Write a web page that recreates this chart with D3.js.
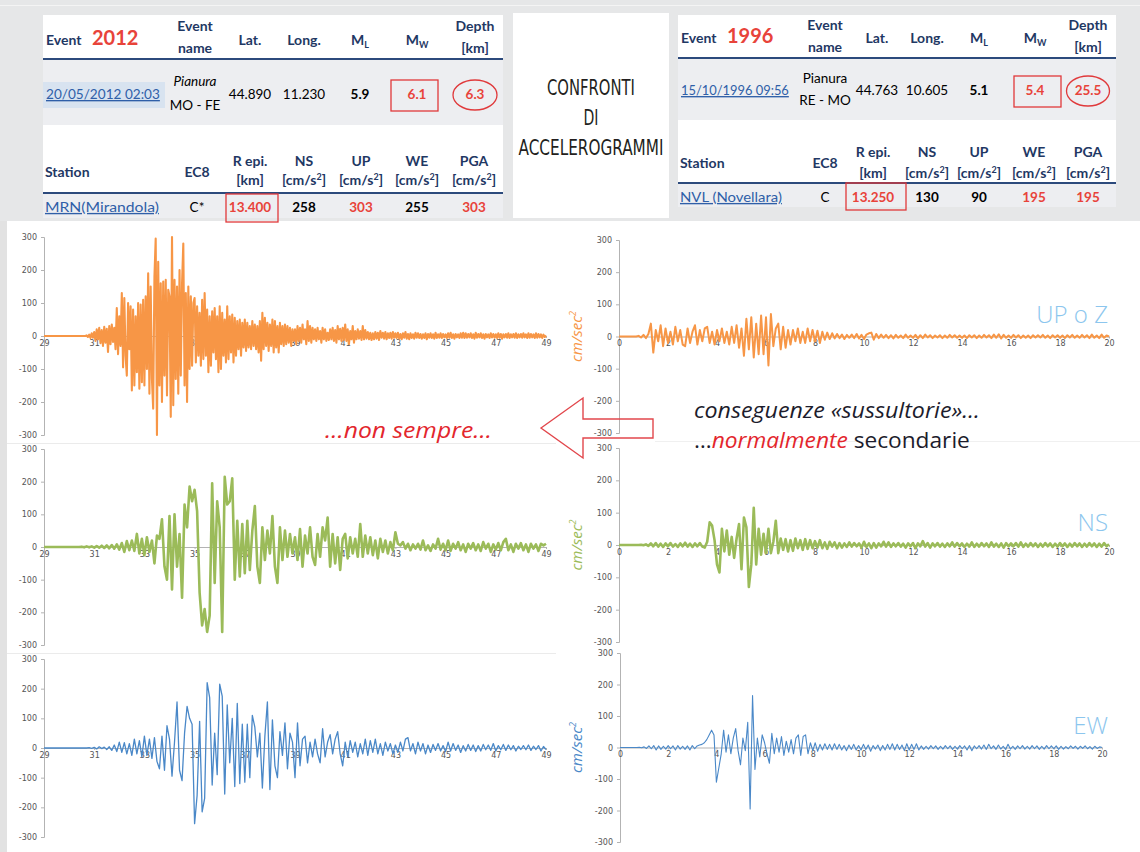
<!DOCTYPE html>
<html><head><meta charset="utf-8">
<script src="https://cdn.jsdelivr.net/npm/d3@7"></script>
<style>body{margin:0;background:#fff}svg{display:block}</style>
</head><body>
<svg id="c" width="1140" height="852"></svg>
<script>
// ---------- DATA ----------
const ticksXLeft = [29,31,33,35,37,39,41,43,45,47,49];
const ticksXRight = [0,2,4,6,8,10,12,14,16,18,20];
const ticksY = [300,200,100,0,-100,-200,-300];
const domainLeft = [29,49];
const domainRight = [0,20];
const stepUpMRN = 0.05, stepMRN = 0.1, stepNVL = 0.1;

// MRN (Mirandola) 2012 – UP, samples every 0.05 s from 29 s
const upMRN = [0,0,0,0,0,0,0,0,0,0,0,0,0,0,0,0,0,0,0,0,0,0,0,0,0,0,0,0,0,0,0,0,0,0,
2,-3,4,-6,8,-5,
12,-15,20,-10,25,-22,18,-30,28,-20,22,-48,30,-25,35,-18,25,-40,85,-55,
60,-30,130,-95,115,-60,-120,100,-40,90,-165,80,-150,60,-110,100,-160,95,-140,110,
-150,120,-100,190,-175,150,-130,-220,180,295,-300,225,-150,160,-200,165,-120,170,-180,140,
120,-245,300,-210,170,-130,150,-175,200,-120,160,280,-150,130,-200,150,-100,120,-90,100,
115,-80,90,-60,70,-90,110,-70,130,-60,80,-110,60,-90,75,-50,85,-70,60,-110,
90,-100,70,-60,50,-80,90,-70,60,-50,65,-80,55,-60,45,-40,50,-60,40,-35,
50,-45,40,-35,30,-40,45,-30,35,-40,30,-50,45,-75,70,-40,55,-30,40,-45,
35,-30,50,-50,45,-35,30,-50,40,-25,30,-30,35,-25,30,-20,25,-30,20,-15,
20,-25,30,-15,25,-20,35,-10,20,-25,45,-15,30,-20,25,-10,20,-15,25,-10,
15,-20,25,-10,20,-15,10,-12,20,-10,25,-15,18,-20,30,-10,22,-15,25,-12,
35,-15,20,-25,15,-10,30,-20,15,-10,20,-8,15,-12,30,-10,18,-8,12,-10,
10,-12,8,-10,12,-8,10,-12,15,-5,10,-8,12,-10,8,-6,10,-8,12,-5,
8,-6,10,-8,6,-10,8,-5,12,-8,6,-10,8,-6,5,-8,10,-5,8,-6,
6,-8,5,-6,8,-10,6,-5,8,-6,5,-8,10,-6,5,-5,8,-6,6,-4,
5,-6,8,-5,10,-6,5,-8,6,-4,5,-6,8,-5,10,-6,8,-5,6,-4,
8,-6,5,-8,10,-5,6,-4,8,-6,5,-8,6,-4,5,-6,8,-4,6,-5,
5,-6,8,-5,6,-8,5,-4,6,-5,8,-6,5,-4,6,-5,8,-6,5,-4,
6,-5,8,-4,5,-6,8,-5,6,-4,5,-6,8,-5,6,-4,5,-6,4,-3,2];

// MRN 2012 – NS, every 0.1 s from 29 s
const nsMRN = [0,0,0,0,0,0,0,0,0,0,0,0,0,0,0,
1,-1,2,-1,2,
-2,3,-2,4,-3,5,-4,6,-5,8,
-8,12,-15,18,-10,20,-12,40,-20,25,
-25,30,-15,20,-50,35,25,85,-60,-100,
95,-130,100,-60,40,-155,130,60,185,140,
175,110,-140,-240,-190,-260,-210,195,-110,140,
60,-260,215,130,140,210,-100,80,-90,70,
-80,80,-70,50,125,-60,-110,60,-40,50,
-20,95,-60,-110,60,-40,50,-30,40,-20,
30,-40,55,-60,35,-20,60,-30,-55,40,
-30,60,20,90,-60,40,-50,30,-70,25,
40,-35,30,-20,25,-30,70,-30,35,-20,
30,-25,20,-35,25,-15,20,-20,15,-10,
45,10,5,15,-5,10,-10,8,-5,10,
-8,20,-10,5,-12,8,-5,25,-8,10,
-10,20,-12,10,-5,15,-10,8,-15,10,
-5,12,-10,8,-12,15,-5,10,-15,8,
-8,12,-10,15,25,-10,8,-15,10,-5,
12,-10,8,-15,10,-5,8,-12,10,5,10];

// MRN 2012 – EW, every 0.1 s from 29 s
const ewMRN = [0,0,0,0,0,0,0,0,0,0,0,0,0,0,0,0,0,0,
1,-1,
2,-3,4,-2,3,-5,4,-8,10,-12,
20,-15,18,-20,15,-25,30,-20,25,-30,
40,-25,30,-35,35,-45,-70,40,-75,75,
30,-95,20,155,-75,-110,50,140,100,80,
-255,-160,90,-215,-170,220,170,-125,50,-90,
215,175,-155,145,-50,100,-130,150,-120,80,
-115,80,-100,110,70,-30,50,-135,40,155,
-140,95,-60,-100,55,-25,85,-70,50,20,
-100,85,-60,30,40,-50,20,-30,30,-20,
-50,65,-30,20,45,-20,30,55,-20,-60,
20,-30,25,-15,20,-30,15,-20,30,-25,
25,-15,30,-20,15,-25,20,-10,15,-20,
10,-15,20,-10,30,35,-10,15,-20,20,
-10,15,-20,10,-15,12,-8,15,-10,8,
-12,20,-10,15,-8,10,-15,8,-10,12,
-8,10,-12,8,-10,12,-6,10,-8,15,
-10,8,-6,12,-8,10,-6,8,-10,6,
-5,8,-6,10,-8,6,-5,8,-10,5,-5];

// NVL (Novellara) 1996 – UP, every 0.1 s from 0 s
const upNVL = [0,0,0,0,0,0,0,0,
2,-3,
5,-5,8,40,-50,20,-15,35,-30,25,
-20,15,-25,30,-15,20,-25,-30,25,-20,
15,35,-25,20,-15,25,30,-20,15,-25,
20,-15,25,-20,15,-25,30,-20,35,-35,
25,-60,55,-40,60,-65,40,-55,65,-55,
60,-90,70,-30,25,40,-40,30,-35,20,
-25,20,-15,25,-20,15,-20,25,-15,20,
-15,18,-20,15,-10,12,-8,10,-6,8,
-5,6,-8,5,-4,6,-5,8,-6,5,
-8,6,10,12,-10,8,-5,6,-4,5,
-5,4,-6,5,-4,3,-5,6,-4,3,
-4,5,-6,4,-5,6,-3,4,-5,3,
-3,4,-5,3,-4,5,-3,4,-4,3,
-4,3,-5,4,-3,4,-5,3,-4,5,
-3,4,-5,6,-4,7,-6,5,-4,3,
-4,5,-3,4,-5,3,-4,3,-5,4,
-3,4,-3,5,-4,3,-5,4,-3,4,
-4,3,-5,4,-3,5,-4,3,-4,5,
-3,4,-5,6,-4,3,-5,6,-4,3,0];

// NVL 1996 – NS, every 0.1 s from 0 s
const nsNVL = [0,0,0,0,0,0,0,0,0,1,
-1,2,-3,5,-4,6,-5,4,-6,5,
-4,6,-5,3,-6,5,-4,7,-5,4,
-6,5,-4,6,-5,-8,10,70,60,15,
-60,-85,50,-20,45,-30,25,-40,20,65,
-75,85,55,-130,-60,115,-60,50,-30,35,
-25,50,-25,10,75,-25,20,-15,18,-20,
15,-18,20,-10,15,-15,18,-12,15,-10,
12,-8,15,-10,8,-12,10,-5,8,-10,
6,-8,5,-6,8,-5,6,-4,5,-8,
10,-6,5,-10,6,-8,5,-4,10,-5,
8,-6,5,-4,6,-5,4,-8,5,-4,
6,-10,5,-4,12,-5,6,-8,5,-4,
6,-5,4,-6,5,-4,8,-5,6,-4,
5,-6,4,-5,8,-6,4,-5,6,-4,
5,-6,8,-5,4,-6,5,-8,6,-4,
5,-4,6,-5,8,-6,4,-5,6,-4,
5,-6,4,-5,6,-4,5,-6,4,-5,
6,-4,5,-6,4,-5,6,-4,5,-6,
4,-5,6,-4,5,-6,4,-5,6,-4,2];

// NVL 1996 – EW, every 0.1 s from 0 s
const ewNVL = [0,0,0,0,0,0,0,0,1,-1,
2,-3,5,-4,6,-8,5,-6,4,-5,
6,-4,5,-8,6,-5,4,-6,5,-8,
6,-4,5,8,10,15,25,40,55,40,
-110,-65,-20,55,-15,40,-20,30,60,-10,
-55,30,-10,80,-195,165,-70,30,-30,40,
15,-20,-50,45,-20,30,-15,35,-25,20,
-15,25,-20,30,40,-25,35,40,-20,15,
-10,15,-12,10,-8,12,-6,10,-8,12,
-6,10,-8,6,-10,8,-6,10,-8,6,
-8,10,-6,8,-12,6,-5,8,-10,6,
-8,10,-6,12,-8,10,-6,8,-10,12,
-8,10,-6,12,-8,5,-6,4,-5,6,
-4,5,-6,4,-5,6,-4,5,-6,4,
-5,6,-4,5,-8,6,-10,5,-4,6,
-5,8,-6,10,-4,5,-6,8,-5,4,
-6,10,-5,4,-6,5,-4,6,-5,4,
-5,6,-4,5,-6,4,-5,6,-4,5,
-4,5,-6,4,-5,3,-4,5,-3,4,
-5,4,-3,5,-4,3,-5,4,-3,2,0];

// table texts
const headerCols = ["Lat.","Long."];
const event2012 = {date:"20/05/2012 02:03", name1:"Pianura", name2:"MO - FE", lat:"44.890", lon:"11.230", ml:"5.9", mw:"6.1", depth:"6.3"};
const station2012 = {name:"MRN(Mirandola)", ec8:"C*", repi:"13.400", ns:"258", up:"303", we:"255", pga:"303"};
const event1996 = {date:"15/10/1996 09:56", name1:"Pianura", name2:"RE - MO", lat:"44.763", lon:"10.605", ml:"5.1", mw:"5.4", depth:"25.5"};
const station1996 = {name:"NVL (Novellara)", ec8:"C", repi:"13.250", ns:"130", up:"90", we:"195", pga:"195"};
const componentLabels = ["UP o Z","NS","EW"];
const titleLines = ["CONFRONTI","DI","ACCELEROGRAMMI"];

// ---------- DRAW ----------
const svg = d3.select('#c');
const FONT = 'Lato, "Open Sans", sans-serif';
const NAVY = '#1f3864', RED = '#e8433a', LINK = '#2f5fa8', LINE = '#2c4a7c';
const ORANGE = '#f79646', GREEN = '#9bbb59', BLUE = '#4a88c8';

function T(g, x, y, s, o = {}) {
  const t = g.append('text').attr('x', x).attr('y', y)
    .attr('font-family', o.ff || FONT).attr('font-size', o.fs || 14)
    .attr('font-weight', o.fw || 'normal').attr('font-style', o.it ? 'italic' : 'normal')
    .attr('fill', o.c || '#000').attr('text-anchor', o.a || 'start');
  if (o.u) t.attr('text-decoration', 'underline');
  if (s !== null) t.text(s);
  if (o.tl) fitW(t, o.tl, x, y);
  return t;
}
// horizontally scale a text so that it spans the given width (anchored at x)
function fitW(t, w, x, y) {
  const n = t.node().getComputedTextLength();
  if (!n) return;
  const k = w / n;
  t.attr('transform', `translate(${x},${y}) scale(${k},1) translate(${-x},${-y})`);
}
function sub(g, x, y, main, s, o) {
  const t = T(g, x, y, null, o);
  t.append('tspan').text(main);
  t.append('tspan').attr('dy', 3).attr('font-size', 9).text(s);
  return t;
}
function unit(g, x, y) {
  const t = T(g, x, y, null, {a:'middle', fw:'bold', c:NAVY, fs:14});
  t.append('tspan').text('[cm/s');
  t.append('tspan').attr('dy', -5).attr('font-size', 9).text('2');
  t.append('tspan').attr('dy', 5).text(']');
}

// backgrounds
svg.append('rect').attr('x',0).attr('y',0).attr('width',1140).attr('height',852).attr('fill','#fff');
svg.append('rect').attr('x',0).attr('y',0).attr('width',1140).attr('height',221).attr('fill','#e6e7e8');
svg.append('line').attr('x1',0).attr('x2',1140).attr('y1',5.5).attr('y2',5.5).attr('stroke','#f4f4f4');
svg.append('rect').attr('x',0).attr('y',221).attr('width',7).attr('height',631).attr('fill','#e2e2e2');

function table(x0, x1, rows, ev, st, yr, cols, year, highlight, italicName) {
  const g = svg.append('g');
  const w = x1 - x0;
  g.append('rect').attr('x',x0).attr('y',rows[0]).attr('width',w).attr('height',rows[1]-rows[0]).attr('fill','#fff');
  g.append('rect').attr('x',x0).attr('y',rows[1]).attr('width',w).attr('height',rows[2]-rows[1]).attr('fill','#edeef1');
  g.append('rect').attr('x',x0).attr('y',rows[2]).attr('width',w).attr('height',rows[3]-rows[2]).attr('fill','#fff');
  g.append('rect').attr('x',x0).attr('y',rows[3]).attr('width',w).attr('height',rows[4]-rows[3]).attr('fill','#edeef1');
  [rows[1], rows[3]].forEach(y => g.append('line').attr('x1',x0).attr('x2',x1).attr('y1',y).attr('y2',y).attr('stroke',LINE).attr('stroke-width',2));
  const [cName, cLat, cLon, cMl, cMw, cDep] = cols;
  const H = {a:'middle', fw:'bold', c:NAVY, fs:14};
  // header
  T(g, x0+3, yr.h, 'Event', {fw:'bold', c:NAVY, fs:14});
  T(g, x0+49, yr.h, year, {fw:'bold', c:RED, fs:20});
  T(g, cName, yr.h1, 'Event', H); T(g, cName, yr.h2, 'name', H);
  T(g, cLat, yr.h, headerCols[0], H); T(g, cLon, yr.h, headerCols[1], H);
  sub(g, cMl, yr.h, 'M', 'L', H); sub(g, cMw, yr.h, 'M', 'W', H);
  T(g, cDep, yr.h1, 'Depth', H); T(g, cDep, yr.h2, '[km]', H);
  // data row
  if (highlight) g.append('rect').attr('x',x0).attr('y',yr.d-17).attr('width',122).attr('height',26).attr('fill','#d8e3f0');
  T(g, x0+3, yr.d, ev.date, {c:LINK, u:true, fs:13.5, tl: yr.dateLen});
  T(g, cName, yr.n1, ev.name1, {a:'middle', it:italicName, fs:13.5});
  T(g, cName, yr.n2, ev.name2, {a:'middle', fs:13.5});
  T(g, cLat, yr.d, ev.lat, {a:'middle', fs:13.5});
  T(g, cLon, yr.d, ev.lon, {a:'middle', fs:13.5});
  T(g, cMl, yr.d, ev.ml, {a:'middle', fw:'bold', fs:13.5});
  T(g, cMw, yr.d, ev.mw, {a:'middle', fw:'bold', c:RED, fs:13.5});
  T(g, cDep, yr.d, ev.depth, {a:'middle', fw:'bold', c:RED, fs:13.5});
  g.append('rect').attr('x',yr.mwBox[0]).attr('y',yr.mwBox[1]).attr('width',yr.mwBox[2]).attr('height',yr.mwBox[3]).attr('fill','none').attr('stroke','#e0393b').attr('stroke-width',1.3);
  g.append('ellipse').attr('cx',cDep).attr('cy',yr.d-4).attr('rx',yr.erx).attr('ry',15).attr('fill','none').attr('stroke','#e0393b').attr('stroke-width',1.3);
  // station header
  const [cEc8, cRe, cNs, cUp, cWe, cPga] = yr.scols;
  T(g, x0+2, yr.s, 'Station', {fw:'bold', c:NAVY, fs:14});
  T(g, cEc8, yr.s, 'EC8', H);
  T(g, cRe, yr.s1, 'R epi.', H); T(g, cRe, yr.s2, '[km]', H);
  [['NS',cNs],['UP',cUp],['WE',cWe],['PGA',cPga]].forEach(([l,c]) => { T(g, c, yr.s1, l, H); unit(g, c, yr.s2); });
  // last row
  T(g, x0+2, yr.l, st.name, {c:LINK, u:true, fs:13.5, tl: yr.stLen});
  T(g, cEc8, yr.l, st.ec8, {a:'middle', fs:13.5});
  T(g, cRe, yr.l, st.repi, {a:'middle', fw:'bold', c:RED, fs:13.5});
  g.append('rect').attr('x',yr.reBox[0]).attr('y',yr.reBox[1]).attr('width',yr.reBox[2]).attr('height',yr.reBox[3]).attr('fill','none').attr('stroke','#e0393b').attr('stroke-width',1.3);
  T(g, cNs, yr.l, st.ns, {a:'middle', fw:'bold', c: yr.red.ns ? RED : '#000', fs:13.5});
  T(g, cUp, yr.l, st.up, {a:'middle', fw:'bold', c: yr.red.up ? RED : '#000', fs:13.5});
  T(g, cWe, yr.l, st.we, {a:'middle', fw:'bold', c: yr.red.we ? RED : '#000', fs:13.5});
  T(g, cPga, yr.l, st.pga, {a:'middle', fw:'bold', c:RED, fs:13.5});
}

table(43, 503, [15,59,125,193,218], event2012, station2012,
  {h:45, h1:31, h2:53, d:99, n1:86, n2:110, s:177, s1:166, s2:185, l:212, dateLen:114, stLen:114,
   mwBox:[391,80,47,31], erx:22, reBox:[226,194,52,28], scols:[197,250,304,361,417,474],
   red:{ns:false, up:true, we:false}},
  [195,250,304,360,417,475], '2012', true, true);

table(678, 1116, [15,58,120,183,207], event1996, station1996,
  {h:43, h1:30, h2:52, d:95, n1:83, n2:105, s:168, s1:157, s2:178, l:202, dateLen:108, stLen:102,
   mwBox:[1014,76,47,31], erx:21.5, reBox:[846,183,60,27], scols:[825,873,927,979,1034,1088],
   red:{ns:false, up:false, we:true}},
  [825,877,927,979,1035,1088], '1996', false, false);

// middle box
svg.append('rect').attr('x',513).attr('y',13).attr('width',156).attr('height',205).attr('fill','#fff');
const CF = '"DejaVu Sans Condensed", "Liberation Sans Narrow", "DejaVu Sans", sans-serif';
const titleW = [88, 15, 145], titleY = [95, 125, 155];
titleLines.forEach((s, i) => T(svg, 591, titleY[i], s, {a:'middle', ff:CF, fs:21, c:'#231f20', tl:titleW[i]}));

// separators
svg.append('line').attr('x1',7).attr('x2',556).attr('y1',443.5).attr('y2',443.5).attr('stroke','#ebebeb');
svg.append('line').attr('x1',655).attr('x2',1140).attr('y1',441.5).attr('y2',441.5).attr('stroke','#f0f0f0');
svg.append('line').attr('x1',7).attr('x2',556).attr('y1',653.5).attr('y2',653.5).attr('stroke','#ebebeb');

// charts
const panels = [
  {vals: upMRN, t0: domainLeft[0], dt: stepUpMRN, dom: domainLeft, ticks: ticksXLeft, xr:[44,546], yr:[237,435], col: ORANGE, w: 2.1},
  {vals: nsMRN, t0: domainLeft[0], dt: stepMRN, dom: domainLeft, ticks: ticksXLeft, xr:[44,546], yr:[449,645], col: GREEN, w: 2.6},
  {vals: ewMRN, t0: domainLeft[0], dt: stepMRN, dom: domainLeft, ticks: ticksXLeft, xr:[44,546], yr:[659,837], col: BLUE, w: 1.3},
  {vals: upNVL, t0: domainRight[0], dt: stepNVL, dom: domainRight, ticks: ticksXRight, xr:[619,1109], yr:[240,433], col: ORANGE, w: 2.0, lab: 0, labY: 323},
  {vals: nsNVL, t0: domainRight[0], dt: stepNVL, dom: domainRight, ticks: ticksXRight, xr:[619,1109], yr:[448,642], col: GREEN, w: 2.6, lab: 1, labY: 531},
  {vals: ewNVL, t0: domainRight[0], dt: stepNVL, dom: domainRight, ticks: ticksXRight, xr:[620,1102], yr:[653,842], col: BLUE, w: 1.1, lab: 2, labY: 734},
];

panels.forEach(p => {
  const g = svg.append('g');
  const x = d3.scaleLinear().domain(p.dom).range(p.xr);
  const y = d3.scaleLinear().domain([300,-300]).range(p.yr);
  const ya = g.append('g').attr('transform', `translate(${p.xr[0]},0)`)
    .call(d3.axisLeft(y).tickValues(ticksY).tickSize(3).tickSizeOuter(3).tickPadding(4).tickFormat(d => String(d)));
  const xa = g.append('g').attr('transform', `translate(0,${y(0)})`)
    .call(d3.axisBottom(x).tickValues(p.ticks).tickSize(2).tickSizeOuter(0).tickPadding(2).tickFormat(d => String(d)));
  [ya, xa].forEach(a => {
    a.select('.domain').attr('stroke', '#b3b3b3');
    a.selectAll('.tick line').attr('stroke', '#b3b3b3');
    a.selectAll('.tick text').attr('fill', '#555').attr('font-size', 8).attr('font-family', '"DejaVu Sans", sans-serif');
  });
  const line = d3.line().x((d, i) => x(p.t0 + i * p.dt)).y(d => y(d));
  g.append('path').datum(p.vals).attr('d', line).attr('fill', 'none')
    .attr('stroke', p.col).attr('stroke-width', p.w).attr('stroke-linejoin', 'round');
  if (p.lab !== undefined) {
    const t = T(g, 582, y(0), null, {a:'middle', it:true, fs:15, c:p.col, ff:'"Open Sans", sans-serif'});
    t.attr('transform', `rotate(-90,582,${y(0)})`);
    t.append('tspan').text('cm/sec');
    t.append('tspan').attr('dy', -6).attr('font-size', 9).text('2');
    T(g, 1108, p.labY, componentLabels[p.lab], {a:'end', fs:24, c:'#8cc6ee', ff:'"Open Sans", sans-serif', fw:300});
  }
});

// arrow
const arrowPts = [[541,428],[583,398],[583,419],[653,419],[653,438],[583,438],[583,458]];
svg.append('path').attr('d', d3.line()(arrowPts) + 'Z').attr('fill', 'none').attr('stroke', '#e2474c').attr('stroke-width', 1.4);

// annotations
const AF = '"Open Sans", sans-serif';
T(svg, 325, 438, '…non sempre…', {it:true, fs:22, c:'#e3262d', ff:AF, tl:167});
T(svg, 694, 418, 'conseguenze «sussultorie»…', {it:true, fs:22, c:'#1c1c2c', ff:AF, tl:286});
const l2 = T(svg, 694, 448, null, {fs:22, c:'#1c1c2c', ff:AF});
l2.append('tspan').text('…');
l2.append('tspan').attr('font-style','italic').attr('fill','#e3262d').text('normalmente');
l2.append('tspan').text(' secondarie');
fitW(l2, 276, 694, 448);
</script>
</body></html>
